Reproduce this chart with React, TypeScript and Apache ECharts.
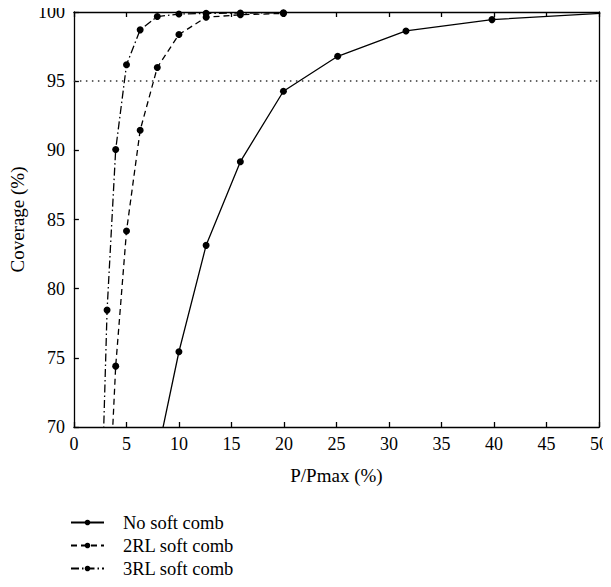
import React, { useEffect, useRef } from "react";
import * as echarts from "echarts";

const xTicks = [0, 5, 10, 15, 20, 25, 30, 35, 40, 45, 50];
const yTicks = [70, 75, 80, 85, 90, 95, 100];

const noSoftX = [7.94, 10, 12.59, 15.85, 19.95, 25.12, 31.62, 39.81, 50.12];
const noSoftY = [68.0, 75.44, 83.13, 89.18, 94.27, 96.8, 98.63, 99.45, 99.9];

const rl2X = [3.16, 3.98, 5.01, 6.31, 7.94, 10, 12.59, 15.85, 19.95];
const rl2Y = [61.5, 74.4, 84.17, 91.45, 95.99, 98.37, 99.62, 99.8, 99.9];

const rl3X = [2.51, 3.16, 3.98, 5.01, 6.31, 7.94, 10, 12.59, 15.85, 19.95];
const rl3Y = [61.3, 78.45, 90.06, 96.19, 98.71, 99.67, 99.85, 99.9, 99.92, 99.95];

const threshold = 95;

const seriesNames = ["No soft comb", "2RL soft comb", "3RL soft comb"];

const FONT = "'Liberation Serif', serif";

export default function App() {
  const ref = useRef<HTMLDivElement>(null);
  useEffect(() => {
    if (!ref.current) return;
    const chart = echarts.init(ref.current, null, { renderer: "svg" });
    const pair = (xs: number[], ys: number[]) => xs.map((x, i) => [x, ys[i]]);
    const common = {
      type: "line",
      symbol: "circle",
      symbolSize: 7,
      itemStyle: { color: "#000" },
      clip: true,
    };
    const txt = { fontFamily: FONT, fontSize: 18, color: "#000" };
    chart.setOption({
      animation: false,
      backgroundColor: "#fff",
      textStyle: { fontFamily: FONT, color: "#000" },
      grid: { left: 72, right: 11, top: 12, bottom: 160, containLabel: false },
      legend: {
        orient: "vertical",
        left: 70,
        top: 513,
        padding: 0,
        itemWidth: 33,
        itemHeight: 7,
        itemGap: 4,
        height: 74,
        data: seriesNames,
        textStyle: { ...txt, fontSize: 18.5, padding: [0, 0, 0, 14] },
        inactiveColor: "#000",
      },
      xAxis: [
        {
          type: "value",
          min: xTicks[0],
          max: xTicks[xTicks.length - 1],
          interval: 5,
          name: "P/Pmax (%)",
          nameLocation: "middle",
          nameGap: 39,
          nameTextStyle: { ...txt, fontSize: 19 },
          axisLine: { show: true, onZero: false, lineStyle: { color: "#000", width: 1.3 } },
          axisTick: { show: true, inside: true, length: 5, lineStyle: { color: "#000", width: 1.3 } },
          axisLabel: { ...txt, margin: 8 },
          splitLine: { show: false },
        },
        {
          type: "value",
          position: "top",
          min: xTicks[0],
          max: xTicks[xTicks.length - 1],
          interval: 5,
          axisLine: { show: true, onZero: false, lineStyle: { color: "#000", width: 1.3 } },
          axisTick: { show: true, inside: true, length: 5, lineStyle: { color: "#000", width: 1.3 } },
          axisLabel: { show: false },
          splitLine: { show: false },
        },
      ],
      yAxis: [
        {
          type: "value",
          min: yTicks[0],
          max: yTicks[yTicks.length - 1],
          interval: 5,
          name: "Coverage (%)",
          nameLocation: "middle",
          nameGap: 44,
          nameRotate: 90,
          nameTextStyle: { ...txt, fontSize: 19 },
          axisLine: { show: true, onZero: false, lineStyle: { color: "#000", width: 1.3 } },
          axisTick: { show: true, inside: true, length: 5, lineStyle: { color: "#000", width: 1.3 } },
          axisLabel: { ...txt, margin: 9 },
          splitLine: { show: false },
        },
        {
          type: "value",
          position: "right",
          min: yTicks[0],
          max: yTicks[yTicks.length - 1],
          interval: 5,
          axisLine: { show: true, onZero: false, lineStyle: { color: "#000", width: 1.3 } },
          axisTick: { show: false },
          axisLabel: { show: false },
          splitLine: { show: false },
        },
      ],
      series: [
        {
          ...common,
          name: seriesNames[0],
          data: pair(noSoftX, noSoftY),
          lineStyle: { color: "#000", width: 1.3, type: "solid" },
          markLine: {
            silent: true,
            symbol: "none",
            label: { show: false },
            lineStyle: { color: "#333", width: 1.5, type: [1.5, 4.5] },
            data: [{ yAxis: threshold }],
          },
        },
        {
          ...common,
          name: seriesNames[1],
          data: pair(rl2X, rl2Y),
          lineStyle: { color: "#000", width: 1.3, type: [6, 4] },
        },
        {
          ...common,
          name: seriesNames[2],
          data: pair(rl3X, rl3Y),
          lineStyle: { color: "#000", width: 1.3, type: [8, 3, 1.5, 3] },
        },
      ],
    });
    return () => chart.dispose();
  }, []);
  return <div ref={ref} style={{ width: 611, height: 587, margin: -8 }} />;
}
